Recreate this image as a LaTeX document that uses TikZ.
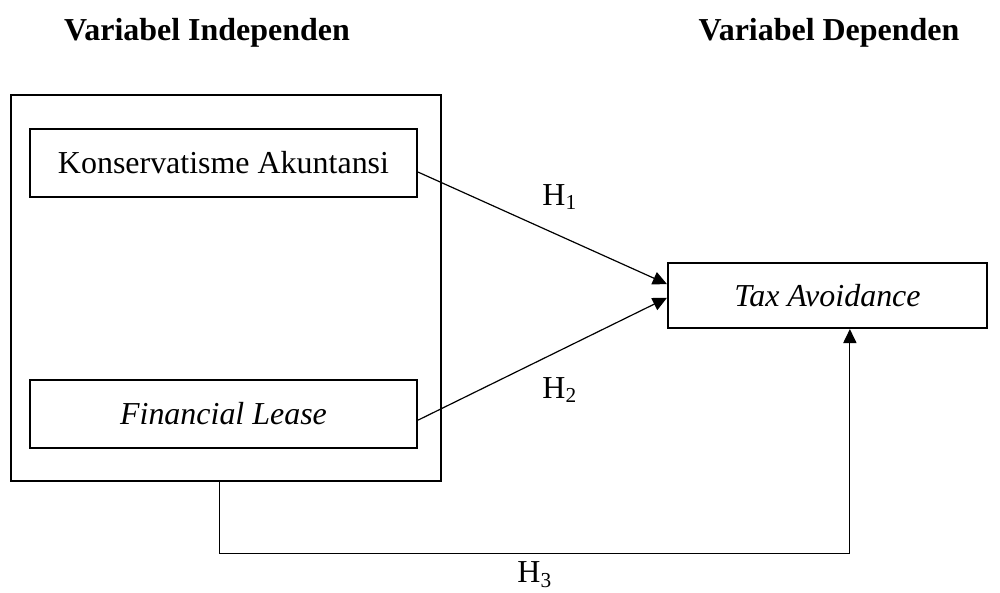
\documentclass[tikz,border=0pt]{standalone}
\usepackage{fontspec}
\setmainfont{Liberation Serif}
\usetikzlibrary{arrows.meta}

\tikzset{
  varbox/.style={draw, line width=0.8pt, minimum width=145.3pt, minimum height=25.5pt, inner sep=0pt},
  hyp/.style={-{Triangle[length=5.3pt,width=5pt]}, line width=0.45pt},
}

\begin{document}
\begin{tikzpicture}[x=0.3755pt, y=-0.3755pt, font=\fontsize{12}{14}\selectfont]
    \useasboundingbox (0, 0) rectangle (1000, 592);

    % headers
    \node[font=\fontsize{12}{14}\selectfont\bfseries] (hindep) at (207, 33) {Variabel Independen};
    \node[font=\fontsize{12}{14}\selectfont\bfseries] (hdep) at (829, 33) {Variabel Dependen};

    % boxes
    \node[draw, line width=0.9pt, minimum width=161.5pt, minimum height=145pt, inner sep=0pt] (indep) at (226, 288) {};
    \node[varbox] (kons) at (223.5, 163) {Konservatisme Akuntansi};
    \node[varbox] (lease) at (223.5, 414) {\itshape Financial Lease};
    \node[varbox, minimum width=119.8pt, minimum height=24.4pt] (tax) at (827.5, 295.5) {\itshape Tax Avoidance};

    % hypotheses
    \draw[hyp] ([yshift=-3.4pt]kons.east) -- ([yshift=4.3pt]tax.west);
    \draw[hyp] ([yshift=-2.3pt]lease.east) -- ([yshift=-0.9pt]tax.west);
    \draw[hyp] ([xshift=-2.3pt]indep.south) -- ++(0, 71) -| ([xshift=8.4pt]tax.south);

    \node (h1) at (560, 197) {H\textsubscript{1}};
    \node (h2) at (560, 390) {H\textsubscript{2}};
    \node (h3) at (535, 575) {H\textsubscript{3}};
\end{tikzpicture}
\end{document}
